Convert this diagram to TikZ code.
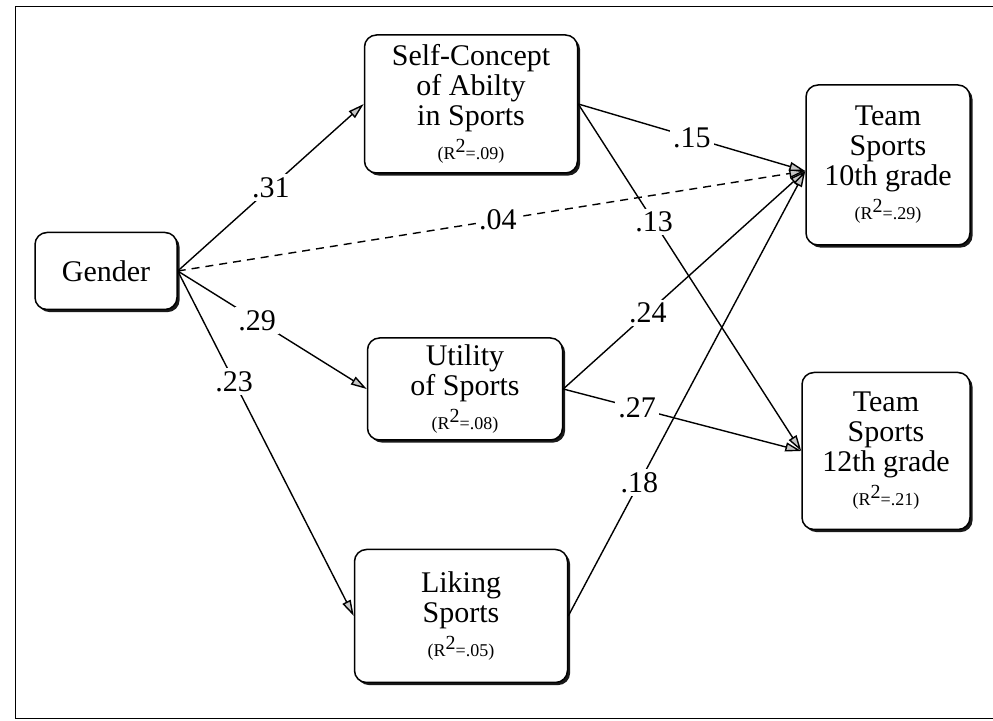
\documentclass[tikz,border=0pt]{standalone}
\usepackage{fontspec}
\setmainfont{Liberation Serif}
\usetikzlibrary{arrows.meta}
\usetikzlibrary{shadows}

\tikzset{
  var/.style={draw,rounded corners=6pt,fill=white,align=center,inner sep=2pt,
    font=\fontsize{15}{15}\selectfont,line width=0.75pt,
    drop shadow={shadow xshift=1.3pt,shadow yshift=-1.3pt,fill=black,opacity=0.9}},
  effect/.style={line width=0.7pt,-{Triangle[length=8pt,width=4.5pt,fill=gray!45]}},
  coef/.style={fill=white,inner sep=1.5pt,font=\fontsize{15}{15}\selectfont},
}
\newcommand{\rsq}[1]{{\fontsize{9}{10}\selectfont (R{\fontsize{10}{10}\selectfont\raisebox{0.8ex}{2}}=#1)}}

\begin{document}
\begin{tikzpicture}[x=0.5pt,y=-0.5pt,line width=0.5pt]

    \useasboundingbox (0,0) rectangle (993,721);
    % frame
    \draw (993,7) -- (15,7) -- (15,719) -- (993,719);

    \node[var,minimum width=71pt,minimum height=38.5pt] (gender) at (106,271) {Gender};
    \node[var,minimum width=106.5pt,minimum height=69pt] (selfc) at (471,104) {Self-Concept\\of Abilty\\in Sports\\[2pt]\rsq{.09}};
    \node[var,minimum width=97.5pt,minimum height=51pt] (utility) at (465,389) {Utility\\of Sports\\[2pt]\rsq{.08}};
    \node[var,minimum width=106.5pt,minimum height=66.5pt] (liking) at (461,616) {Liking\\Sports\\[2pt]\rsq{.05}};
    \node[var,minimum width=82pt,minimum height=80pt] (team10) at (888,165) {Team\\Sports\\10th grade\\[2pt]\rsq{.29}};
    \node[var,minimum width=84pt,minimum height=78.5pt] (team12) at (886,451) {Team\\Sports\\12th grade\\[2pt]\rsq{.21}};

    % paths from gender
    \draw[effect] (gender.east) -- node[coef,pos=0.5]{.31} (selfc.west);
    \draw[effect] (gender.east) -- node[coef,pos=0.42]{.29} (utility.west);
    \draw[effect] (gender.east) -- node[coef,pos=0.32]{.23} (liking.west);
    \draw[effect,dash pattern=on 4pt off 3pt] (gender.east) -- node[coef,pos=0.51]{.04} ([yshift=-3pt]team10.west);

    % paths to team sports
    \draw[effect] (selfc.east) -- node[coef,pos=0.5]{.15} ([yshift=-3pt]team10.west);
    \draw[effect] (selfc.east) -- node[coef,pos=0.34]{.13} (team12.west);
    \draw[effect] (utility.east) -- node[coef,pos=0.35]{.24} ([yshift=-3pt]team10.west);
    \draw[effect] (utility.east) -- node[coef,pos=0.31]{.27} (team12.west);
    \draw[effect] (liking.east) -- node[coef,pos=0.30]{.18} ([yshift=-3pt]team10.west);

\end{tikzpicture}
\end{document}
